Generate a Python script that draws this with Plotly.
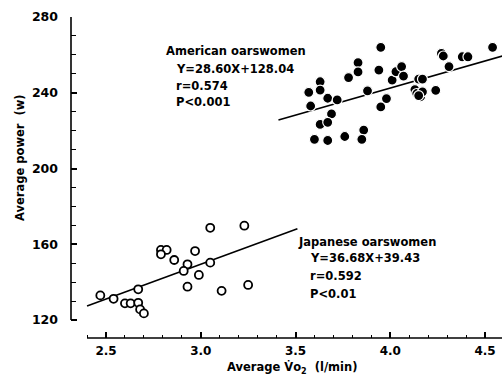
import numpy as np
import plotly.graph_objects as go

# Japanese oarswomen: average VO2 (l/min) and average power (W)
jp_vo2 = [2.47, 2.54, 2.60, 2.63, 2.67, 2.68, 2.70, 2.67, 2.79, 2.82, 2.79,
          2.86, 2.93, 2.91, 2.97, 2.99, 2.93, 3.05, 3.05, 3.11, 3.23, 3.25]
jp_power = [133.0, 131.2, 128.8, 128.8, 129.1, 125.6, 123.5, 136.2, 157.0, 157.0, 154.7,
            151.7, 149.4, 145.9, 156.4, 143.8, 137.6, 150.3, 168.7, 135.4, 169.8, 138.5]

# American oarswomen
us_vo2 = [3.57, 3.58, 3.63, 3.63, 3.67, 3.72, 3.69, 3.63, 3.67, 3.60, 3.67,
          3.76, 3.86, 3.85, 3.78, 3.83, 3.83, 3.88, 3.95, 3.94, 3.98, 3.95,
          4.01, 4.03, 4.06, 4.07, 4.15, 4.17, 4.13, 4.14, 4.16, 4.17, 4.15,
          4.24, 4.27, 4.28, 4.31, 4.38, 4.41, 4.54]
us_power = [240.2, 233.0, 245.8, 241.4, 237.1, 236.2, 228.8, 223.3, 224.4, 215.4, 214.8,
            216.9, 220.3, 215.4, 248.0, 255.9, 251.0, 241.0, 264.0, 252.0, 236.9, 232.5,
            246.7, 251.1, 253.8, 248.8, 247.2, 247.2, 241.7, 239.6, 237.9, 240.5, 238.5,
            241.3, 260.8, 259.4, 253.8, 259.0, 259.0, 264.0]

# Regression fits and the span each is drawn over
jp_slope, jp_icpt, jp_span = 36.68, 39.43, (2.40, 3.51)
us_slope, us_icpt, us_span = 28.60, 128.04, (3.41, 4.62)

x_ticks = [2.5, 3.0, 3.5, 4.0, 4.5]
x_ticktext = ["2.5", "3.0", "3.5", "4.0", "4.5"]
y_ticks = [120, 160, 200, 240, 280]

# Statistics blocks
us_text = ["American oarswomen", "Y=%.2fX+%.2f" % (us_slope, us_icpt), "r=0.574", "P<0.001"]
jp_text = ["Japanese oarswomen", "Y=%.2fX+%.2f" % (jp_slope, jp_icpt), "r=0.592", "P<0.01"]

X_RANGE = (2.3153, 4.5897)
Y_RANGE = (110.5, 280.0)

W, H = 502, 376
ML, MR, MT, MB = 71, 0, 17, 38
PW, PH = W - ML - MR, H - MT - MB

FONT = "DejaVu Sans"


def paper_x(v):
    return (v - X_RANGE[0]) / (X_RANGE[1] - X_RANGE[0])


def paper_y(v):
    return (v - Y_RANGE[0]) / (Y_RANGE[1] - Y_RANGE[0])


def pix_x(px):
    return (px - ML) / PW


def pix_y(py):
    return (H - MB - py) / PH


fig = go.Figure()

for slope, icpt, span in [(jp_slope, jp_icpt, jp_span), (us_slope, us_icpt, us_span)]:
    xs = np.array(span)
    fig.add_trace(go.Scatter(
        x=xs, y=slope * xs + icpt, mode="lines",
        line=dict(color="black", width=1.6), hoverinfo="skip",
    ))

fig.add_trace(go.Scatter(
    x=jp_vo2, y=jp_power, mode="markers", name="Japanese oarswomen",
    marker=dict(symbol="circle", size=8, color="white",
                line=dict(color="black", width=1.8)),
))
fig.add_trace(go.Scatter(
    x=us_vo2, y=us_power, mode="markers", name="American oarswomen",
    marker=dict(symbol="circle", size=10, color="black",
                line=dict(color="white", width=1.2)),
))

fig.update_layout(
    width=W, height=H,
    margin=dict(l=ML, r=MR, t=MT, b=MB),
    paper_bgcolor="white", plot_bgcolor="white",
    showlegend=False,
    font=dict(family=FONT, color="black", size=11),
)

fig.update_xaxes(
    range=list(X_RANGE), showgrid=False, zeroline=False, showline=False,
    tickmode="array", tickvals=x_ticks, ticktext=x_ticktext,
    ticks="inside", ticklen=6, tickwidth=1.5, tickcolor="black",
    ticklabelstandoff=4,
    tickfont=dict(family=FONT, size=12, weight="bold"),
    minor=dict(dtick=0.1, tick0=2.4, ticks="inside", ticklen=3,
               tickwidth=1.2, tickcolor="black", showgrid=False),
)
fig.update_yaxes(
    range=list(Y_RANGE), showgrid=False, zeroline=False, showline=False,
    tickmode="array", tickvals=y_ticks,
    ticks="inside", ticklen=6, tickwidth=1.5, tickcolor="black",
    ticklabelstandoff=12,
    tickfont=dict(family=FONT, size=12.5, weight="bold"),
    minor=dict(dtick=10, tick0=120, ticks="inside", ticklen=5,
               tickwidth=1.2, tickcolor="black", showgrid=False),
)

# Detached axis lines: the power axis runs 120–280, the VO2 axis from 2.4 rightwards
fig.add_shape(type="line", xref="paper", yref="paper",
              x0=0, x1=0, y0=paper_y(120), y1=1,
              line=dict(color="black", width=1.6))
fig.add_shape(type="line", xref="paper", yref="paper",
              x0=paper_x(2.4), x1=1, y0=0, y1=0,
              line=dict(color="black", width=1.6))

bold = dict(family=FONT, size=11.5, color="black", weight="bold")

fig.add_annotation(xref="paper", yref="paper", x=pix_x(20), y=pix_y(158),
                   text="Average power  (w)", textangle=-90, showarrow=False,
                   font=bold, xanchor="center", yanchor="middle")
fig.add_annotation(xref="paper", yref="paper", x=pix_x(292), y=pix_y(368),
                   text="Average V\u0307o<sub>2</sub>  (l/min)", showarrow=False,
                   font=bold, xanchor="center", yanchor="middle")


def add_block(lines, left, indent, rows):
    for i, (line, row) in enumerate(zip(lines, rows)):
        fig.add_annotation(xref="paper", yref="paper",
                           x=pix_x(left if i == 0 else left + indent), y=pix_y(row),
                           text=line, showarrow=False, font=bold,
                           xanchor="left", yanchor="middle")


add_block(us_text, 164, 10, [51, 69, 86, 102])
add_block(jp_text, 296, 12, [242, 258, 276, 294])

fig.write_html("out.html")
